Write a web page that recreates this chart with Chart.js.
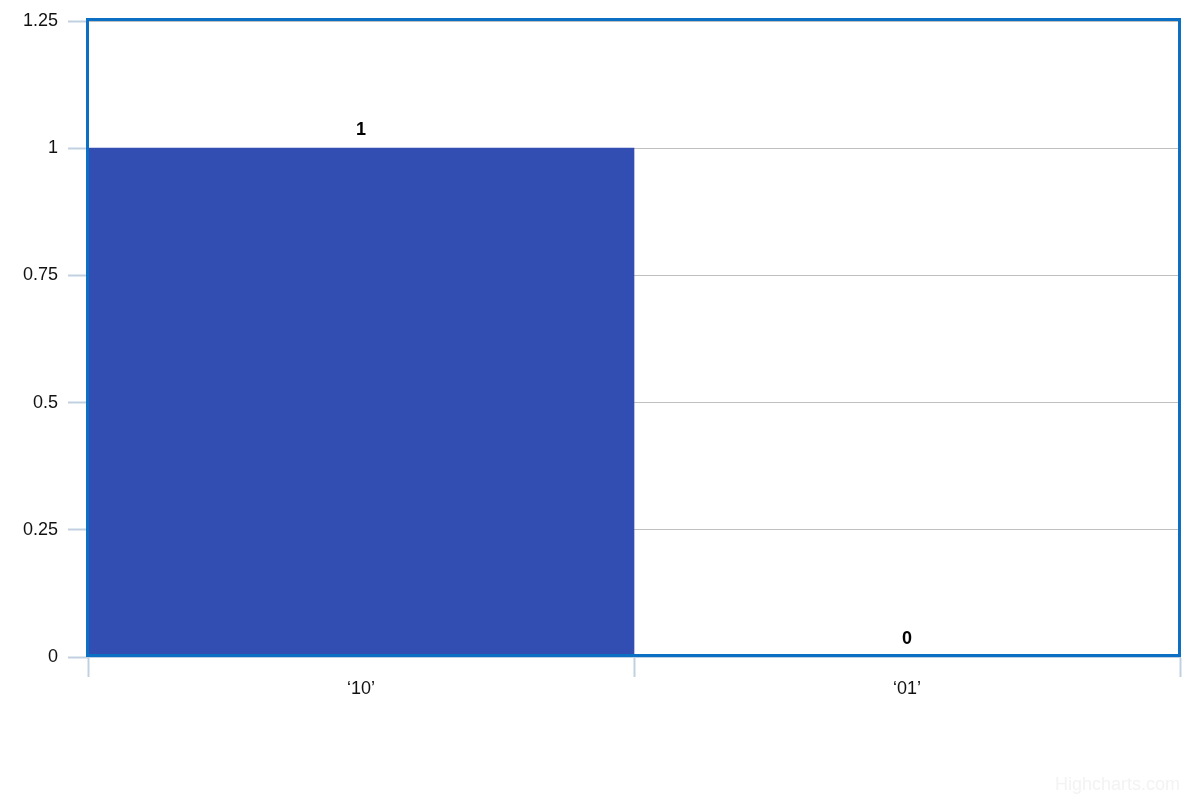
<!DOCTYPE html>
<html>
<head>
<meta charset="utf-8">
<script src="https://cdn.jsdelivr.net/npm/chart.js@4/dist/chart.umd.min.js"></script>
<style>
html,body{margin:0;padding:0;background:#fff;}
#wrap{width:1200px;height:800px;position:relative;}
</style>
</head>
<body>
<div id="wrap"><canvas id="c" width="1200" height="800"></canvas></div>
<script>
const categories = ['\u201810\u2019', '\u201801\u2019'];
const values = [1, 0];
const yTicks = [0, 0.25, 0.5, 0.75, 1, 1.25];
const creditText = 'Highcharts.com';

const FONT = "'Liberation Sans', Arial, sans-serif";

const plotBorder = {
  id: 'plotBorder',
  afterDatasetsDraw(chart) {
    const {ctx, chartArea: a} = chart;
    ctx.save();
    // data labels
    const meta = chart.getDatasetMeta(0);
    ctx.font = 'bold 18px ' + FONT;
    ctx.fillStyle = '#000';
    ctx.textAlign = 'center';
    ctx.textBaseline = 'bottom';
    meta.data.forEach((bar, i) => {
      ctx.fillText(String(values[i]), bar.x, bar.y - 9);
    });
    // plot border
    ctx.strokeStyle = '#0b70c4';
    ctx.lineWidth = 3;
    ctx.strokeRect(a.left - 0.5, a.top - 1.5, a.right - a.left, a.bottom - a.top);
    // credit
    ctx.font = '18px ' + FONT;
    ctx.fillStyle = '#f3f3f3';
    ctx.textAlign = 'right';
    ctx.textBaseline = 'middle';
    ctx.fillText(creditText, 1180, 785);
    ctx.restore();
  }
};

new Chart(document.getElementById('c'), {
  type: 'bar',
  data: {
    labels: categories,
    datasets: [{
      data: values,
      backgroundColor: '#334eb3',
      borderWidth: 0,
      barPercentage: 1,
      categoryPercentage: 1
    }]
  },
  options: {
    responsive: false,
    animation: false,
    layout: {padding: {top: 21, right: 20, left: 0, bottom: 0}},
    plugins: {legend: {display: false}, tooltip: {enabled: false}},
    scales: {
      x: {
        offset: true,
        grid: {
          offset: true,
          drawOnChartArea: false,
          drawTicks: true,
          tickLength: 20,
          tickColor: '#c0d0e0',
          tickWidth: 2
        },
        border: {display: true, color: '#c0d0e0', width: 2},
        ticks: {font: {family: FONT, size: 18}, color: '#111', padding: 1},
        afterFit(s) { s.height = 143; }
      },
      y: {
        min: 0,
        max: 1.25,
        afterBuildTicks(s) { s.ticks = yTicks.map(v => ({value: v})); },
        grid: {
          color: '#c0c0c0',
          lineWidth: 1,
          drawTicks: true,
          tickLength: 20,
          tickColor: '#c0d0e0',
          tickWidth: 2
        },
        border: {display: false},
        ticks: {
          font: {family: FONT, size: 18},
          color: '#111',
          padding: 10,
          callback: v => String(v)
        },
        afterFit(s) { s.width = 88; }
      }
    }
  },
  plugins: [plotBorder]
});
</script>
</body>
</html>
